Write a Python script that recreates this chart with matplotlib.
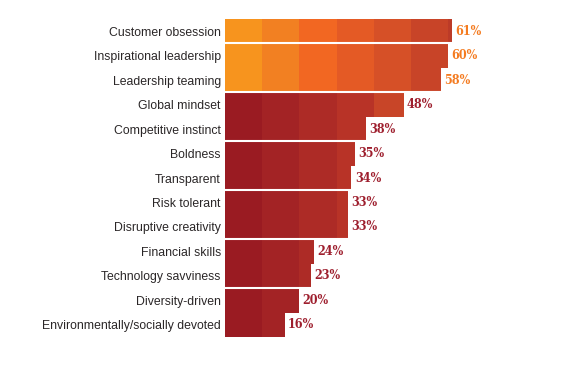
import matplotlib.pyplot as plt
import numpy as np

# traits, top to bottom
traits = ["Customer obsession", "Inspirational leadership", "Leadership teaming",
          "Global mindset", "Competitive instinct", "Boldness", "Transparent",
          "Risk tolerant", "Disruptive creativity", "Financial skills",
          "Technology savviness", "Diversity-driven", "Environmentally/socially devoted"]
values = [61, 60, 58, 48, 38, 35, 34, 33, 33, 24, 23, 20, 16]
n_orange = 3

orange_shades = ["#F7941E", "#F28022", "#F26722", "#E45A25", "#D65027", "#C84428", "#BC3B28"]
red_shades = ["#9A1B22", "#A32325", "#AD2B26", "#B83327", "#C84528", "#D05029"]
orange_label = "#F47B20"
red_label = "#9E1F2E"

plt.rcParams["font.family"] = "Liberation Sans"
fig = plt.figure(figsize=(5.86, 3.69), dpi=100)
ax = fig.add_axes([225 / 586, 32 / 369, 361 / 586, 318 / 369])

n = len(traits)
for i, (name, v) in enumerate(zip(traits, values)):
    y = n - 1 - i
    shades = orange_shades if i < n_orange else red_shades
    k = 0
    while k * 10 < v:
        w = min(10, v - k * 10)
        ax.barh(y, w, left=k * 10, height=1.0, color=shades[k], linewidth=0)
        k += 1
    ax.text(v + 0.9, y, f"{v}%", va="center", ha="left", fontsize=9,
            fontweight="bold", family="DejaVu Serif", fontstretch="condensed",
            color=orange_label if i < n_orange else red_label)

# white separators every two rows from the bottom
for yy in np.arange(1.5, n - 1, 2):
    ax.axhline(yy, color="white", linewidth=1.5)

ax.set_xlim(0, 361 / 3.72)
ax.set_ylim(-0.5, n - 0.5)
ax.set_yticks(range(n))
ax.set_yticklabels(traits[::-1], fontsize=8.85, color="#2A2627")
ax.tick_params(axis="y", length=0, pad=3)
ax.set_xticks([])
for s in ax.spines.values():
    s.set_visible(False)

fig.savefig("out.png", dpi=100)
